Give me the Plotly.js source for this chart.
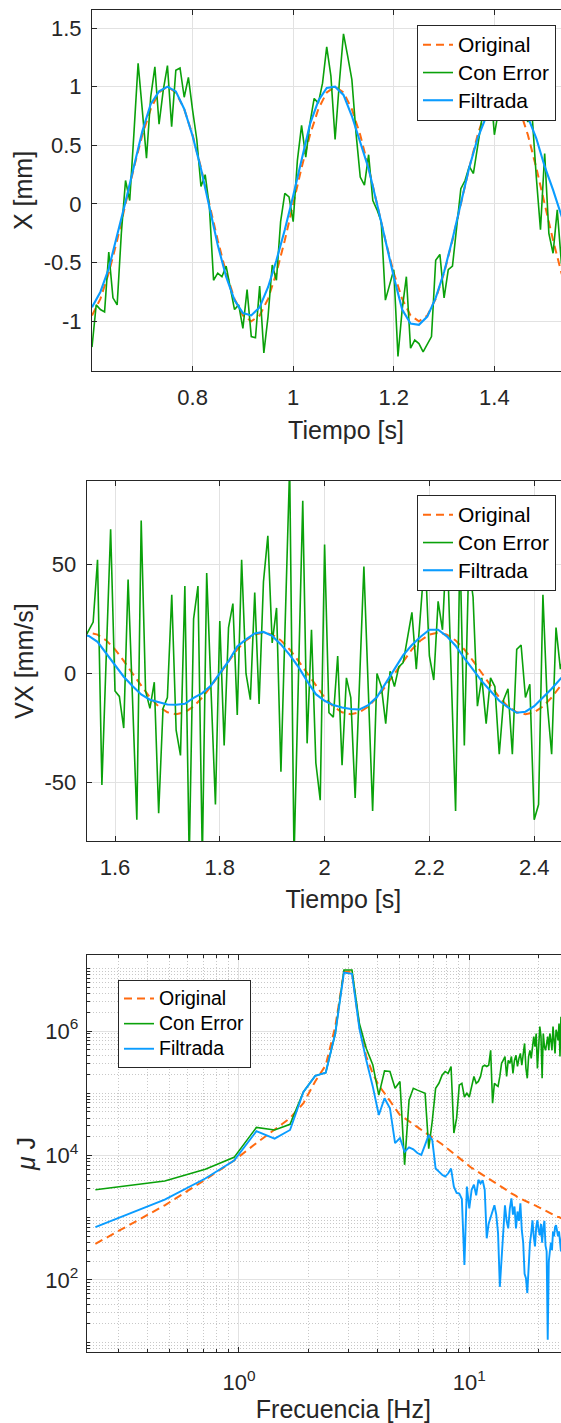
<!DOCTYPE html>
<html><head><meta charset="utf-8">
<script src="https://cdn.plot.ly/plotly-3.0.1.min.js"></script>
<style>
html,body{margin:0;padding:0;overflow:hidden;background:#fff;width:561px;height:1423px}
#wrap{width:561px;height:1423px;overflow:hidden;position:relative}
#chart{width:600px;height:1423px}
</style>
</head><body><div id="wrap"><div id="chart"></div></div>
<script>
// ---------- Panel 1: X [mm] vs Tiempo ----------
const x1Start = 0.6;          // s
const x1StepSmooth = 1/60;    // s
const x1StepNoisy = 1/120;    // s
const xOriginal = [-0.951,-0.809,-0.588,-0.309,0,0.309,0.588,0.809,0.951,1,0.951,0.809,0.588,0.309,0,-0.309,-0.588,-0.809,-0.951,-1,
  -0.951,-0.809,-0.588,-0.309,0,0.309,0.588,0.809,0.951,1,0.951,0.809,0.588,0.309,0,-0.309,-0.588,-0.809,-0.951,-1,
  -0.951,-0.809,-0.588,-0.309,0,0.309,0.588,0.809,0.951,1,0.951,0.809,0.588,0.309,0,-0.309,-0.588,-0.809];
const xConError = [-1.22,-0.86,-0.90,-0.92,-0.41,-0.80,-0.86,-0.25,0.20,0.03,
  0.60,1.20,0.80,0.39,0.91,1.17,0.68,0.97,1.18,0.66,
  1.14,1.16,0.91,1.08,0.80,0.55,0.15,0.25,-0.02,-0.65,
  -0.59,-0.62,-0.53,-0.70,-0.90,-0.86,-1.06,-0.73,-1.13,-1.14,
  -0.70,-1.27,-0.96,-0.52,-0.65,-0.15,0.09,0.06,-0.15,0.37,
  0.67,0.40,0.69,0.90,0.86,1.03,1.34,1.09,0.55,1.03,
  1.45,1.26,1.06,0.60,0.23,0.16,0.42,0.03,-0.05,-0.15,
  -0.82,-0.69,-0.56,-1.30,-0.90,-0.62,-1.23,-1.16,-1.19,-1.26,
  -1.19,-1.13,-0.48,-0.43,-0.80,-0.56,-0.53,-0.19,0.13,0.20,
  0.32,0.26,0.49,0.72,0.89,1.03,0.59,0.80,1.17,0.94,
  1.03,0.89,1.09,0.77,0.70,0.76,0.23,-0.22,0.43,-0.25,
  -0.42,-0.05,-0.51,-0.35];
const xFiltrada = [-0.88,-0.75,-0.55,-0.27,0.02,0.32,0.62,0.85,0.96,1.00,
  0.96,0.81,0.58,0.30,-0.03,-0.35,-0.62,-0.82,-0.93,-0.95,
  -0.88,-0.71,-0.48,-0.22,0.07,0.37,0.68,0.88,0.99,1.00,
  0.93,0.75,0.52,0.30,0.00,-0.32,-0.62,-0.90,-1.02,-1.03,
  -0.96,-0.80,-0.58,-0.30,0.00,0.31,0.56,0.74,0.90,0.98,
  1.00,0.90,0.74,0.56,0.32,0.12,-0.10,-0.30];

// ---------- Panel 2: VX [mm/s] vs Tiempo ----------
const v2StartSmooth = 1.53333;
const v2StepSmooth = 1/60;
const v2StartNoisy = 1.541667;
const v2StepNoisy = 1/120;
const vxOriginal = [17.78,18.7,17.78,15.13,10.99,5.78,0,-5.78,-10.99,-15.13,
  -17.78,-18.7,-17.78,-15.13,-10.99,-5.78,0,5.78,10.99,15.13,
  17.78,18.7,17.78,15.13,10.99,5.78,0,-5.78,-10.99,-15.13,
  -17.78,-18.7,-17.78,-15.13,-10.99,-5.78,0,5.78,10.99,15.13,
  17.78,18.7,17.78,15.13,10.99,5.78,0,-5.78,-10.99,-15.13,
  -17.78,-18.7,-17.78,-15.13,-10.99,-5.78,0];
const vxConError = [16,20,23.5,52,-51,8,66,-8,-10.5,-25,
  43,-11,-67,70,-8,-16,-4,-64,-16,-11,
  36,-26,-37.5,40,-85,25,40,-85,46,-8,
  -60,24,-33,21,32,-19,52,0,-12,37,
  -14,42,63,14,30,-45,20,95,-85,0,
  79,-32,20,-41,-58,59,-18,-20,8,-42,
  -2,-11,-57,-4,49,-7,-63,0,-6,-23,
  1,-6,3,5,17,28,2,29,55,8,
  -3,33,20,62,2,-63,58,-33,50,35,
  -15,-2,-23,-2,-6,-37,-12,-7,-37,11,
  13,-11,-5,-67,-60,36,-14,-37,21,2,
  10,-5];
const vxFiltrada = [17.8,17.2,14.5,9.2,3.6,-1.5,-5.7,-9.6,-12.0,-13.0,
  -14.2,-14.3,-13.9,-11.2,-9.0,-5.5,0.0,5.6,12.4,15.6,
  18.3,19.0,17.2,13.3,8.5,3.0,-3.5,-9.5,-12.5,-14.5,
  -15.6,-16.3,-16.5,-14.5,-10.8,-4.5,1.8,8.4,13.0,16.8,
  20.0,20.0,17.0,12.7,7.0,1.5,-3.5,-8.0,-12.5,-15.5,
  -18.0,-17.5,-15.0,-11.0,-7.0,-2.5,1.5];

// ---------- Panel 3: spectrum (values read as log10 of µJ) ----------
const fStart = 1/4.2;   // Hz
const fStep = 1/4.2;    // Hz
const specOriginalLog = [2.58,3.20,3.61,3.92,4.20,4.41,4.60,4.84,5.19,5.45,
  6.07,6.95,6.95,6.07,5.59,5.32,5.12,5.00,4.88,4.76,
  4.65,4.60,4.55,4.51,4.46,4.42,4.38,4.34,4.30,4.26,
  4.22,4.18,4.14,4.10,4.06,4.03,3.99,3.96,3.92,3.89,
  3.86,3.83,3.80,3.78,3.76,3.73,3.71,3.69,3.67,3.65,
  3.63,3.61,3.59,3.57,3.55,3.53,3.51,3.50,3.48,3.46,
  3.44,3.43,3.41,3.39,3.38,3.36,3.35,3.33,3.32,3.31,
  3.30,3.29,3.28,3.27,3.26,3.25,3.24,3.23,3.22,3.21,
  3.20,3.19,3.18,3.17,3.16,3.15,3.14,3.13,3.12,3.11,
  3.11,3.10,3.09,3.08,3.07,3.06,3.06,3.05,3.04,3.03,
  3.02,3.01,3.01,3.00,2.99,2.98,2.98];
const specConErrorLog = [3.45,3.59,3.78,3.97,4.45,4.41,4.50,5.02,5.28,5.33,
  5.96,6.98,6.98,6.12,5.72,5.46,4.97,5.36,5.35,5.08,
  5.19,3.85,4.89,5.08,5.05,5.03,5.00,4.11,4.55,5.08,
  5.16,5.29,5.35,5.32,5.43,4.36,4.60,5.13,5.16,4.94,
  5.00,4.94,5.11,5.27,5.16,5.19,5.27,5.43,5.45,5.43,
  5.45,5.69,4.84,5.16,5.13,5.11,5.27,5.48,5.53,5.59,
  5.27,5.53,5.48,5.59,5.32,5.53,5.61,5.43,5.56,5.64,
  5.45,5.67,5.80,5.40,5.24,5.59,5.69,5.56,5.80,5.91,
  5.75,5.96,5.40,5.75,6.07,5.91,5.24,5.96,5.75,5.69,
  5.80,5.91,5.69,5.96,5.85,5.69,6.07,5.85,5.64,6.02,
  5.96,5.85,6.12,5.59,6.23,5.90,6.10];
const specFiltradaLog = [2.85,3.29,3.63,3.92,4.39,4.27,4.41,5.02,5.28,5.33,
  5.96,6.94,6.92,6.04,5.53,5.11,4.65,4.92,4.76,4.20,
  4.28,4.06,4.13,4.10,4.04,4.01,4.17,4.33,4.25,3.79,
  3.74,3.69,3.66,3.71,3.79,3.50,3.40,3.39,3.30,2.24,
  3.50,3.15,3.45,3.53,3.36,3.61,3.55,3.60,3.45,2.67,
  2.91,3.02,3.12,3.20,3.05,2.75,1.89,2.40,2.90,3.20,
  2.95,2.83,3.15,3.31,3.05,3.18,2.83,3.10,2.95,3.23,
  2.80,2.60,2.10,2.03,1.79,2.30,2.59,2.75,2.96,2.70,
  2.54,2.85,2.96,2.80,2.72,2.90,2.60,2.85,2.95,2.55,
  2.46,1.04,2.30,2.46,2.60,2.48,2.78,2.70,2.85,2.88,
  2.80,2.70,2.78,2.55,2.46,2.70,2.60];

const seriesNames = ['Original','Con Error','Filtrada'];
const timeTicks1 = [0.8,1,1.2,1.4];
const timeTicks2 = [1.6,1.8,2,2.2,2.4];
const xTicks = [-1,-0.5,0,0.5,1,1.5];
const vxTicks = [-50,0,50];

// ---------- styling ----------
const W = 600, H = 1423;
const FONT = 'Liberation Sans, Arial, Helvetica, sans-serif';
const AX = '#262626';
const GRID = '#e2e2e2';
const C_OR = '#ff6a10', C_GR = '#0aa10a', C_BL = '#0a9cff';
const pow10 = a => a.map(v => Math.pow(10, v));
const big = (s, px) => '<span style="font-size:' + px + 'px">' + s + '</span>';

function lineTrace(name, y, x0, dx, color, width, dash, xa, ya, leg) {
  return {type:'scatter', mode:'lines', name, y, x0, dx, xaxis:xa, yaxis:ya, legend:leg,
    line:{color, width, dash: dash || 'solid'}, hoverinfo:'skip'};
}
const DASH = '8px,5px';
const n12 = seriesNames.map(s => big(s, 21));
const n3 = seriesNames.map(s => big(s, 19.5));
const traces = [
  lineTrace(n12[0], xOriginal, x1Start, x1StepSmooth, C_OR, 2, DASH, 'x', 'y', 'legend'),
  lineTrace(n12[1], xConError, x1Start, x1StepNoisy, C_GR, 1.6, null, 'x', 'y', 'legend'),
  lineTrace(n12[2], xFiltrada, x1Start, x1StepSmooth, C_BL, 2.1, null, 'x', 'y', 'legend'),
  lineTrace(n12[0], vxOriginal, v2StartSmooth, v2StepSmooth, C_OR, 2, DASH, 'x2', 'y2', 'legend2'),
  lineTrace(n12[1], vxConError, v2StartNoisy, v2StepNoisy, C_GR, 1.6, null, 'x2', 'y2', 'legend2'),
  lineTrace(n12[2], vxFiltrada, v2StartSmooth, v2StepSmooth, C_BL, 2.1, null, 'x2', 'y2', 'legend2'),
  lineTrace(n3[0], pow10(specOriginalLog), fStart, fStep, C_OR, 2, DASH, 'x3', 'y3', 'legend3'),
  lineTrace(n3[1], pow10(specConErrorLog), fStart, fStep, C_GR, 1.6, null, 'x3', 'y3', 'legend3'),
  lineTrace(n3[2], pow10(specFiltradaLog), fStart, fStep, C_BL, 1.9, null, 'x3', 'y3', 'legend3')
];

const tickFont = {family:FONT, size:22, color:AX};
const titleFont = {family:FONT, size:25, color:AX};
function baseAxis(extra) {
  return Object.assign({showline:true, linecolor:AX, linewidth:1, mirror:'ticks', ticks:'inside',
    ticklen:5, tickwidth:1, tickcolor:AX, showgrid:true, gridcolor:GRID, gridwidth:1, zeroline:false,
    tickfont:tickFont, fixedrange:true}, extra);
}
const fmt = v => String(v);

// minor grid positions for log axes
const minorX = [], minorY = [];
[0.1,1,10].forEach(d => { for (let m = 2; m <= 9; m++) minorX.push(m*d); });
for (let e = 0; e <= 7; e++) {
  for (let m = 1; m <= 9; m++) {
    if (m === 1 && (e === 2 || e === 4 || e === 6)) continue;
    minorY.push(m*Math.pow(10, e));
  }
}
const minorCfg = vals => ({tickmode:'array', tickvals:vals, ticks:'inside', ticklen:3, tickcolor:AX,
  showgrid:true, gridcolor:'#c8c8c8', griddash:'1px,2px', gridwidth:1});

const legendBase = {bgcolor:'#ffffff', bordercolor:AX, borderwidth:1, xanchor:'left', yanchor:'top',
  tracegroupgap:0, itemclick:false, itemdoubleclick:false};

const layout = {
  width:W, height:H, margin:{l:0,r:0,t:0,b:0}, paper_bgcolor:'#fff', plot_bgcolor:'#fff',
  font:{family:FONT, color:AX}, showlegend:true,
  xaxis: baseAxis({domain:[92/W,1], anchor:'y', range:[0.6,1.61], tickmode:'array',
    tickvals:timeTicks1, ticktext:timeTicks1.map(fmt), ticklabelstandoff:7,
    title:{text:'Tiempo [s]', font:titleFont, standoff:12}}),
  yaxis: baseAxis({domain:[1-371/H, 1-10/H], anchor:'x', range:[-1.424,1.654], tickmode:'array',
    tickvals:xTicks, ticktext:xTicks.map(fmt), ticklabelstandoff:5,
    title:{text:'X [mm]', font:titleFont, standoff:3}}),
  xaxis2: baseAxis({domain:[86.7/W,1], anchor:'y2', range:[1.546,2.5256], tickmode:'array',
    tickvals:timeTicks2, ticktext:timeTicks2.map(fmt), ticklabelstandoff:7,
    title:{text:'Tiempo [s]', font:titleFont, standoff:11}}),
  yaxis2: baseAxis({domain:[1-841/H, 1-481/H], anchor:'x2', range:[-76.7,88.1], tickmode:'array',
    tickvals:vxTicks, ticktext:vxTicks.map(fmt), ticklabelstandoff:5,
    title:{text:'VX [mm/s]', font:titleFont, standoff:3}}),
  xaxis3: baseAxis({domain:[86.7/W,1], anchor:'y3', type:'log', range:[-0.661,1.5675], tickmode:'array',
    tickvals:[1,10], ticktext:['10<sup>0</sup>','10<sup>1</sup>'], ticklabelstandoff:11,
    minor:minorCfg(minorX), title:{text:'Frecuencia [Hz]', font:titleFont, standoff:7}}),
  yaxis3: baseAxis({domain:[1-1352/H, 1-955/H], anchor:'x3', type:'log', range:[0.843,7.221], tickmode:'array',
    tickvals:[1e2,1e4,1e6], ticktext:['10<sup>2</sup>','10<sup>4</sup>','10<sup>6</sup>'], ticklabelstandoff:3,
    minor:minorCfg(minorY), title:{text:'<i>μ</i> J', font:titleFont, standoff:2}}),
  legend: Object.assign({}, legendBase, {x:417/W, y:1-25/H, font:{family:FONT, size:19, color:'#000'}}),
  legend2: Object.assign({}, legendBase, {x:417/W, y:1-495/H, font:{family:FONT, size:19, color:'#000'}}),
  legend3: Object.assign({}, legendBase, {x:118/W, y:1-980/H, font:{family:FONT, size:17, color:'#000'}})
};

Plotly.newPlot('chart', traces, layout, {displayModeBar:false, staticPlot:true});
</script></body></html>
